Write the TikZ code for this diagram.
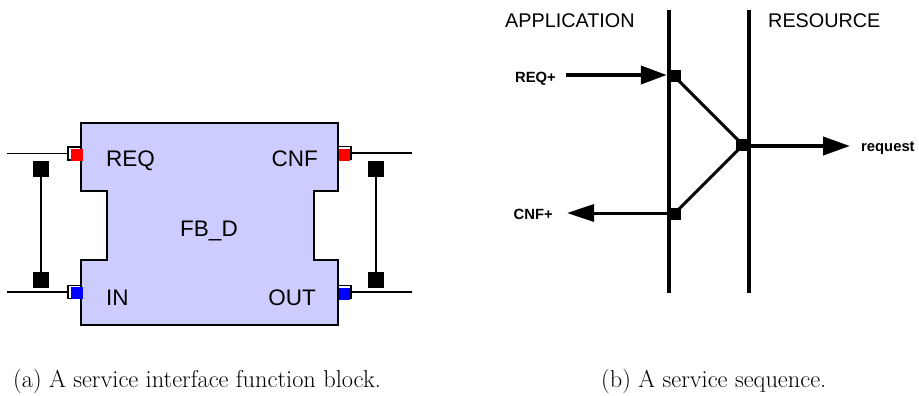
\documentclass[tikz,border=0pt]{standalone}
\usepackage{fontspec}
\newfontfamily\arialf{Liberation Sans}
\usetikzlibrary{arrows.meta}
\definecolor{fbfill}{RGB}{204,204,255}
\tikzset{
  lbl/.style={inner sep=0pt, font=\arialf\fontsize{22.5}{27}\selectfont},
  hdr/.style={inner sep=0pt, font=\arialf\fontsize{19.8}{24}\selectfont},
  evlbl/.style={inner sep=0pt, font=\arialf\bfseries\fontsize{14.8}{18}\selectfont},
  captxt/.style={inner sep=0pt, font=\fontsize{24.4}{29}\selectfont},
  portbox/.style={draw=black, fill=white, line width=1.3pt, minimum width=13pt, minimum height=13pt, inner sep=0pt},
  blk/.style={fill=black, minimum width=16pt, minimum height=16pt, inner sep=0pt},
  jct/.style={fill=black, minimum width=14pt, minimum height=12pt, inner sep=0pt},
  wire/.style={line width=1.5pt},
  assoc/.style={line width=2pt},
  life/.style={line width=4pt},
}
\begin{document}
\begin{tikzpicture}[x=1pt,y=-1pt]
\useasboundingbox (0,0) rectangle (919,396);
% ---- (a) function block ----
\draw[fill=fbfill, line width=1.5pt]
  (81,123) -- (338,123) -- (338,191) -- (314,191) -- (314,260) -- (338,260)
  -- (338,325) -- (81,325) -- (81,260) -- (107,260) -- (107,191) -- (81,191) -- cycle;
% ports
\node[portbox] (reqp) at (74.5,153.5) {};
\fill[red] (71,149) rectangle (83,161);
\node[portbox] (inp) at (74.5,292) {};
\fill[blue] (71,287) rectangle (83,299);
\node[portbox] (cnfp) at (344.5,153) {};
\fill[red] (338.5,149) rectangle (350,161);
\node[portbox] (outp) at (344.5,292) {};
\fill[blue] (338.5,288) rectangle (350,300);
% wires
\coordinate (reqw) at (7,153.5);
\coordinate (inw) at (7,292);
\coordinate (cnfw) at (412,153);
\coordinate (outw) at (412,292);
\draw[wire] (reqw) -- (reqp.west);
\draw[wire] (inw) -- (inp.west);
\draw[wire] (cnfp.east) -- (cnfw);
\draw[wire] (outp.east) -- (outw);
% associations
\node[blk] (la) at (41,169) {};
\node[blk] (lb) at (41,280) {};
\node[blk] (ra) at (376,169) {};
\node[blk] (rb) at (376,280) {};
\draw[assoc] (la) -- (lb);
\draw[assoc] (ra) -- (rb);
% labels
\node[lbl, anchor=base west] (treq) at (106,166) {REQ};
\node[lbl, anchor=base west] (tin) at (106,305) {IN};
\node[lbl, anchor=base east] (tcnf) at (318,166) {CNF};
\node[lbl, anchor=base east] (tout) at (316,305) {OUT};
\node[lbl, anchor=base] (tfb) at (209,236) {FB\_D};
% ---- (b) service sequence ----
\coordinate (appT) at (669,10);
\coordinate (appB) at (669,293);
\coordinate (resT) at (749,10);
\coordinate (resB) at (749,293);
\draw[life] (appT) -- (appB);
\draw[life] (resT) -- (resB);
\node[hdr, anchor=base west] (tapp) at (505,28) {APPLICATION};
\node[hdr, anchor=base west] (tres) at (768,28) {RESOURCE};
\node[jct] (j1) at (674,76) {};
\node[jct] (j2) at (743,145) {};
\node[jct] (j3) at (674,214) {};
\draw[line width=3pt] (j1.center) -- (j2.center) -- (j3.center);
\coordinate (reqs) at (566,75);
\coordinate (cnfe) at (567,213);
\coordinate (reqe) at (850,146);
\draw[line width=4pt, -{Triangle[length=26pt,width=18pt]}] (reqs) -- (j1.west |- reqs);
\draw[line width=3pt, -{Triangle[length=27pt,width=17pt]}] (j3.west |- cnfe) -- (cnfe);
\draw[line width=4pt, -{Triangle[length=27pt,width=18pt]}] (j2.east |- reqe) -- (reqe);
\node[evlbl, anchor=base east] (treqp) at (556,83) {REQ+};
\node[evlbl, anchor=base east] (tcnfp) at (553,219) {CNF+};
\node[evlbl, anchor=base west] (trq) at (861,151.5) {request};
% captions
\node[captxt, anchor=base west] (capa) at (13,387) {(a) A service interface function block.};
\node[captxt, anchor=base west] (capb) at (601,387) {(b) A service sequence.};
\end{tikzpicture}
\end{document}
